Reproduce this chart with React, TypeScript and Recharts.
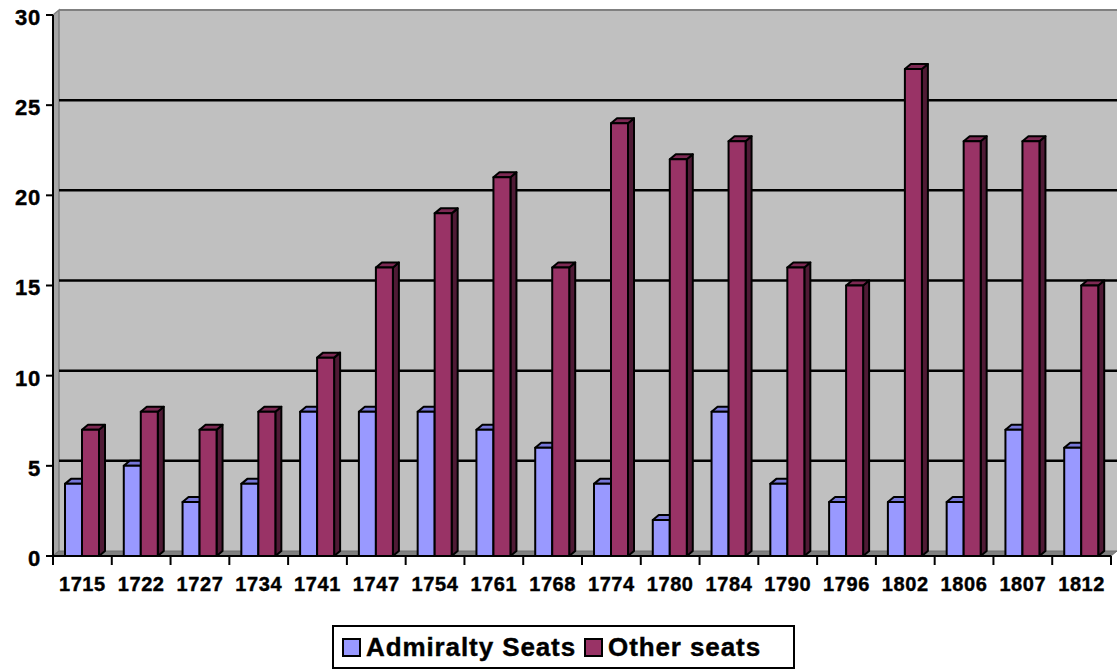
import { BarChart, Bar, XAxis, YAxis, CartesianGrid } from "recharts";

const years = [
  "1715", "1722", "1727", "1734", "1741", "1747", "1754", "1761", "1768",
  "1774", "1780", "1784", "1790", "1796", "1802", "1806", "1807", "1812",
];
const admiraltySeats = [4, 5, 3, 4, 8, 8, 8, 7, 6, 4, 2, 8, 4, 3, 3, 3, 7, 6];
const otherSeats = [7, 8, 7, 8, 11, 16, 19, 21, 16, 24, 22, 23, 16, 15, 27, 23, 23, 15];
const yTicks = [0, 5, 10, 15, 20, 25, 30];

const data = years.map((year, i) => ({
  year,
  admiralty: admiraltySeats[i],
  other: otherSeats[i],
}));

// layout
const W = 1117;
const H = 671;
const PLOT_L = 53;
const PLOT_R = 1111;
const PLOT_T = 15;
const PLOT_B = 556;
const BAND = (PLOT_R - PLOT_L) / years.length;
const DX = 6; // 3d depth
const DY = 5;
const FONT = "Liberation Sans, Arial, sans-serif";

const BLUE = "#9999FF";
const RED = "#993366";

const bar3d = (front: string, top: string, side: string) => (props: any) => {
  const { x, y, width, height } = props;
  if (!height || height <= 0) return <g />;
  return (
    <g stroke="#000" strokeWidth={2} strokeLinejoin="round">
      <polygon
        points={`${x + width},${y} ${x + width + DX},${y - DY} ${x + width + DX},${y + height - DY} ${x + width},${y + height}`}
        fill={side}
      />
      <polygon
        points={`${x},${y} ${x + DX},${y - DY} ${x + width + DX},${y - DY} ${x + width},${y}`}
        fill={top}
      />
      <rect x={x} y={y} width={width} height={height} fill={front} />
    </g>
  );
};

const gridLine = (p: any) => {
  const y0 = p.y1;
  if (Math.abs(y0 - PLOT_B) < 1) {
    return (
      <g key={`floor-${y0}`}>
        <polygon
          points={`${PLOT_L},${PLOT_T} ${PLOT_L + DX},${PLOT_T - DY} ${PLOT_L + DX},${PLOT_B - DY} ${PLOT_L},${PLOT_B}`}
          fill="#A6A6A6"
          stroke="#808080"
          strokeWidth={1.5}
        />
        <polygon
          points={`${PLOT_L},${PLOT_B} ${PLOT_R},${PLOT_B} ${PLOT_R + DX},${PLOT_B - DY} ${PLOT_L + DX},${PLOT_B - DY}`}
          fill="#808080"
          stroke="#6E6E6E"
          strokeWidth={1}
        />
      </g>
    );
  }
  const isTop = Math.abs(y0 - PLOT_T) < 1;
  return (
    <line
      key={`h-${y0}`}
      x1={PLOT_L + DX}
      x2={PLOT_R + DX}
      y1={y0 - DY}
      y2={y0 - DY}
      stroke={isTop ? "#808080" : "#000"}
      strokeWidth={isTop ? 2 : 2.5}
    />
  );
};

const XTick = (props: any) => {
  const { x, payload, index } = props;
  const left = x - BAND / 2;
  return (
    <g>
      <line x1={left} x2={left} y1={PLOT_B} y2={PLOT_B + 9} stroke="#000" strokeWidth={2} />
      {index === years.length - 1 && (
        <line x1={left + BAND} x2={left + BAND} y1={PLOT_B} y2={PLOT_B + 9} stroke="#000" strokeWidth={2} />
      )}
      <text
        x={x}
        y={PLOT_B + 35}
        textAnchor="middle"
        style={{ fontFamily: FONT, fontWeight: 700, fontSize: 20, letterSpacing: 0.6 }}
        fill="#000"
        stroke="#000"
        strokeWidth={0.4}
      >
        {payload.value}
      </text>
    </g>
  );
};

const YTick = (props: any) => {
  const { y, payload } = props;
  return (
    <g>
      <line x1={PLOT_L - 7} x2={PLOT_L} y1={y} y2={y} stroke="#000" strokeWidth={2} />
      <text
        x={PLOT_L - 12}
        y={y + 2}
        dy="0.36em"
        textAnchor="end"
        style={{ fontFamily: FONT, fontWeight: 700, fontSize: 22, letterSpacing: 0.8 }}
        fill="#000"
        stroke="#000"
        strokeWidth={0.4}
      >
        {payload.value}
      </text>
    </g>
  );
};

const legendItems = [
  { label: "Admiralty Seats", color: BLUE },
  { label: "Other seats", color: RED },
];

export default function App() {
  return (
    <div style={{ position: "absolute", left: 0, top: 0, width: W, height: H, background: "#fff" }}>
      <BarChart
        width={W}
        height={H}
        data={data}
        margin={{ top: PLOT_T, right: W - PLOT_R, bottom: 0, left: 0 }}
        barGap={0}
        barSize={17}
      >
        <CartesianGrid
          x={PLOT_L + DX}
          y={PLOT_T - DY}
          width={PLOT_R - PLOT_L}
          height={PLOT_B - PLOT_T}
          fill="#C0C0C0"
          fillOpacity={1}
          vertical={false}
          horizontal={gridLine}
        />
        <XAxis
          dataKey="year"
          height={H - PLOT_B}
          interval={0}
          tickLine={false}
          axisLine={{ stroke: "#000", strokeWidth: 2 }}
          tick={<XTick />}
        />
        <YAxis
          width={PLOT_L}
          domain={[0, 30]}
          ticks={yTicks}
          interval={0}
          tickLine={false}
          axisLine={{ stroke: "#000", strokeWidth: 2 }}
          tick={<YTick />}
        />
        <Bar
          dataKey="admiralty"
          name="Admiralty Seats"
          fill={BLUE}
          shape={bar3d(BLUE, "#7777D9", "#55558F")}
          isAnimationActive={false}
        />
        <Bar
          dataKey="other"
          name="Other seats"
          fill={RED}
          shape={bar3d(RED, "#7D2953", "#4F1A35")}
          isAnimationActive={false}
        />
      </BarChart>
      <div
        style={{
          position: "absolute",
          left: 332,
          top: 625,
          width: 451,
          height: 40,
          border: "2px solid #000",
          background: "#fff",
          display: "flex",
          alignItems: "center",
          paddingLeft: 8,
          boxSizing: "content-box",
          fontFamily: FONT,
          fontWeight: 700,
          fontSize: 26,
          letterSpacing: 0.9,
          whiteSpace: "nowrap",
          WebkitTextStroke: "0.4px #000",
        }}
      >
        {legendItems.map((item) => (
          <span key={item.label} style={{ display: "flex", alignItems: "center", marginRight: 8 }}>
            <span
              style={{
                display: "inline-block",
                width: 15,
                height: 15,
                background: item.color,
                border: "2px solid #000",
                marginRight: 5,
              }}
            />
            {item.label}
          </span>
        ))}
      </div>
    </div>
  );
}
